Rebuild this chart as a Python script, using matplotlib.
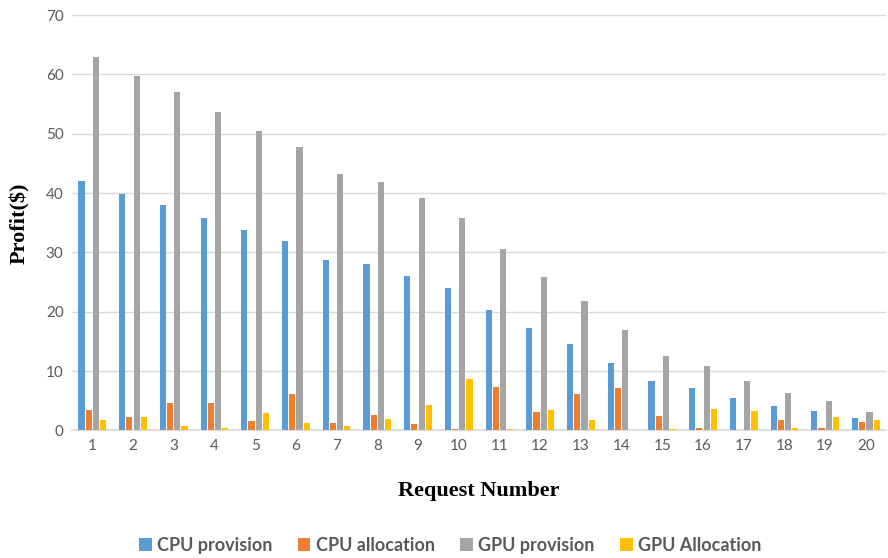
import numpy as np
import matplotlib
matplotlib.use('Agg')
import matplotlib.pyplot as plt

# ---------------------------------------------------------------------------
# Profit per request
# ---------------------------------------------------------------------------
requests = list(range(1, 21))
cpu_provision = [42.0, 39.8, 38.0, 35.8, 33.7, 31.9, 28.8, 28.0, 26.1, 24.0,
                 20.3, 17.2, 14.6, 11.4, 8.4, 7.2, 5.5, 4.1, 3.3, 2.1]
cpu_allocation = [3.45, 2.2, 4.6, 4.6, 1.55, 6.2, 1.26, 2.55, 1.04, 0.25,
                  7.3, 3.1, 6.2, 7.2, 2.45, 0.4, 0.0, 1.8, 0.4, 1.4]
gpu_provision = [63.0, 59.8, 57.0, 53.6, 50.5, 47.8, 43.2, 41.9, 39.1, 35.8,
                 30.5, 25.8, 21.8, 17.0, 12.6, 10.9, 8.4, 6.3, 4.9, 3.2]
gpu_allocation = [1.8, 2.3, 0.8, 0.4, 2.95, 1.26, 0.76, 1.94, 4.3, 8.6,
                  0.25, 3.4, 1.8, 0.0, 0.25, 3.6, 3.3, 0.4, 2.3, 1.8]

series = [
    ('CPU provision', cpu_provision, '#5b9bd5'),
    ('CPU allocation', cpu_allocation, '#ed7d31'),
    ('GPU provision', gpu_provision, '#a5a5a5'),
    ('GPU Allocation', gpu_allocation, '#ffc000'),
]

fig = plt.figure(figsize=(8.88, 5.58), dpi=100)
ax = fig.add_axes([0.081, 0.2285, 0.917, 0.7445])

x = np.array(requests, dtype=float)
step = 0.177
width = 0.15
for i, (label, vals, color) in enumerate(series):
    ax.bar(x + (i - 1.5) * step, vals, width=width, color=color,
           label=label, zorder=3)

ax.set_xlim(0.5, 20.5)
ax.set_ylim(0, 70)
ax.set_yticks(range(0, 71, 10))
ax.set_xticks(requests)
ax.grid(axis='y', color='#d9d9d9', lw=1.0, zorder=0)
ax.tick_params(length=0, labelsize=11, colors='#595959', pad=6)
for lbl in ax.get_xticklabels() + ax.get_yticklabels():
    lbl.set_fontfamily('Lato')

for side in ('top', 'right', 'left'):
    ax.spines[side].set_visible(False)
ax.spines['bottom'].set_color('#d9d9d9')
ax.spines['bottom'].set_linewidth(1.2)

ax.set_ylabel('Profit($)', fontfamily='Liberation Serif', fontweight='bold',
              fontsize=16, labelpad=11)
ax.set_xlabel('Request Number', fontfamily='Liberation Serif', fontweight='bold',
              fontsize=16, labelpad=20)

leg = fig.legend(loc='lower center', bbox_to_anchor=(0.507, -0.022), ncol=4,
                 frameon=False, handlelength=0.7, handleheight=0.7,
                 handletextpad=0.3, columnspacing=1.4,
                 prop={'family': 'Lato', 'weight': 'bold', 'size': 13})
for txt in leg.get_texts():
    txt.set_color('#595959')

fig.savefig('out.png', dpi=100)
